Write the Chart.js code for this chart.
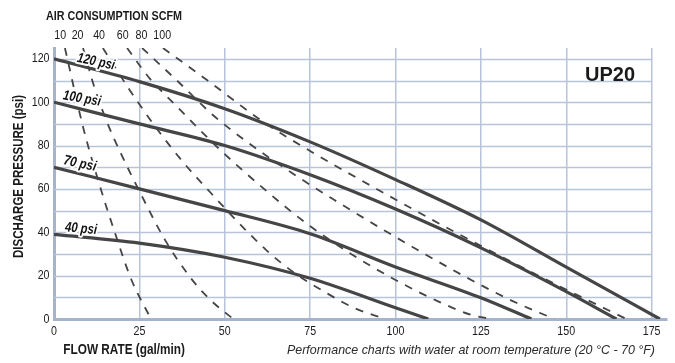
<!DOCTYPE html>
<html>
<head>
<meta charset="utf-8">
<script src="https://cdn.jsdelivr.net/npm/chart.js@4.4.0/dist/chart.umd.min.js"></script>
<style>
  html, body { margin: 0; padding: 0; background: #fff; }
</style>
</head>
<body>
<canvas id="chart" width="675" height="363"></canvas>
<script>
// solid curves: flow (gal/min) vs discharge pressure (psi) at a given air inlet pressure
const psiNames = ['120 psi', '100 psi', '70 psi', '40 psi'];
const flow120 = [0, 25, 50, 75, 100, 125, 150, 177.4];
const pres120 = [120, 109.5, 97, 81.7, 64.3, 45.7, 23.9, 0];
const flow100 = [0, 25, 50, 75, 100, 125, 150, 164.7];
const pres100 = [100, 90, 80, 66.5, 50.7, 32.8, 12.6, 0];
const flow70 = [0, 25, 50, 75, 100, 125, 139.8];
const pres70 = [70, 60, 50, 39.3, 24, 9.8, 0];
const flow40 = [0, 25, 50, 75, 100, 109.6];
const pres40 = [39, 35, 28.5, 18.8, 5.2, 0];

// dashed curves: air consumption (SCFM)
const airNames = ['10', '20', '40', '60', '80', '100'];
const airFlow10 = [3.2, 8.6, 13.5, 17.9, 22.7, 28.4];
const airPres10 = [125, 88, 61, 39.5, 18, 0];
const airFlow20 = [8.5, 12, 16, 20, 25, 32.5, 40, 46, 52.5];
const airPres20 = [125, 106, 89, 75, 59, 36.5, 19, 8.5, 0];
const airFlow40 = [14.3, 22, 30, 38, 46, 54, 62, 70, 80, 88, 97];
const airPres40 = [125, 106, 88, 72, 58, 44.5, 32, 21.7, 11.8, 5, 0];
const airFlow60 = [21.4, 28, 36, 48, 61.5, 74, 87, 100, 112, 122, 128];
const airPres60 = [125, 111, 98, 79, 60, 44, 30, 18, 8.5, 2, 0];
const airFlow80 = [25.8, 36, 46.6, 58, 70, 82, 95, 108, 121, 134, 146.5];
const airPres80 = [125, 110, 94, 80, 67, 55, 42.5, 30.5, 19, 8.5, 0];
const airFlow100 = [31.9, 45, 61.2, 75, 95, 116.8, 137.5, 152, 167.6];
const airPres100 = [125, 110, 91, 77.5, 59.5, 40.6, 23.5, 12, 0];
// where the SCFM numbers sit along the top (flow units)
const airLabelFlow = [1.8, 6.9, 13.2, 20.1, 25.6, 31.7];

// psi labels: [flow, pressure, angle deg, width px]
const psiLabelPos = [[12.3, 118.6, 12, 38], [8.2, 101.6, 10, 38], [7.6, 71.6, 12, 33], [7.9, 41.6, 5, 32]];

const SANS = '"Liberation Sans", Arial, Helvetica, sans-serif';
const NARROW_X = 0.82;
const LINE = '#454545';
const GRID = '#b8c4d8';
const AXIS = '#a5b4cc';
const INK = '#1a1a1a';

function pts(xs, ys) {
    return xs.map((v, i) => ({x: v, y: ys[i]}));
}

// draw text squeezed horizontally (no narrow font installed)
function squeeze(ctx, text, x, y, font, sx, align) {
    ctx.save();
    ctx.font = font;
    ctx.textAlign = align || 'left';
    ctx.textBaseline = 'middle';
    ctx.translate(x, y);
    ctx.scale(sx, 1);
    ctx.fillText(text, 0, 0);
    ctx.restore();
}
function fitWidth(ctx, text, font, w) {
    ctx.save();
    ctx.font = font;
    const m = ctx.measureText(text).width;
    ctx.restore();
    return w / m;
}

const solid = [[flow120, pres120], [flow100, pres100], [flow70, pres70], [flow40, pres40]];
const dashed = [[airFlow10, airPres10], [airFlow20, airPres20], [airFlow40, airPres40],
                [airFlow60, airPres60], [airFlow80, airPres80], [airFlow100, airPres100]];

const datasets = [];
dashed.forEach((d, i) => {
    datasets.push({
        label: airNames[i] + ' SCFM',
        data: pts(d[0], d[1]),
        borderColor: LINE,
        borderWidth: 1.8,
        borderDash: [8, 8],
        pointRadius: 0,
        fill: false,
        cubicInterpolationMode: 'monotone'
    });
});
solid.forEach((d, i) => {
    datasets.push({
        label: psiNames[i],
        data: pts(d[0], d[1]),
        borderColor: LINE,
        borderWidth: 3.2,
        pointRadius: 0,
        fill: false,
        cubicInterpolationMode: 'monotone'
    });
});

// horizontal grid only runs to 175
const gridPlugin = {
    id: 'hgrid',
    beforeDatasetsDraw(chart) {
        const {ctx, scales: {x, y}} = chart;
        ctx.save();
        ctx.strokeStyle = GRID;
        ctx.lineWidth = 1.5;
        for (let v = 10; v <= 120; v += 10) {
            const py = Math.round(y.getPixelForValue(v)) + 0.5;
            ctx.beginPath();
            ctx.moveTo(x.getPixelForValue(0), py);
            ctx.lineTo(x.getPixelForValue(175), py);
            ctx.stroke();
        }
        ctx.restore();
    }
};

const textPlugin = {
    id: 'texts',
    afterDatasetsDraw(chart) {
        const {ctx, chartArea, scales: {x, y}} = chart;
        ctx.save();
        ctx.fillStyle = INK;

        // tick labels, narrow like the original
        x.ticks.forEach(t => {
            squeeze(ctx, String(t.value), x.getPixelForValue(t.value), chartArea.bottom + 12.5, '13px ' + SANS, NARROW_X, 'center');
        });
        y.ticks.forEach(t => {
            squeeze(ctx, String(t.value), chartArea.left - 4.5, y.getPixelForValue(t.value), '13px ' + SANS, NARROW_X, 'right');
        });

        // psi labels on the curves
        psiLabelPos.forEach((p, i) => {
            const f = 'italic bold 14px ' + SANS;
            const sx = fitWidth(ctx, psiNames[i], f, p[3]);
            ctx.save();
            ctx.translate(x.getPixelForValue(p[0]), y.getPixelForValue(p[1]));
            ctx.rotate(p[2] * Math.PI / 180);
            ctx.scale(sx, 1);
            ctx.font = f;
            ctx.textAlign = 'center';
            ctx.textBaseline = 'middle';
            ctx.lineJoin = 'round';
            ctx.strokeStyle = '#fff';
            ctx.lineWidth = 4;
            ctx.strokeText(psiNames[i], 0, 0);
            ctx.fillStyle = '#111';
            ctx.fillText(psiNames[i], 0, 0);
            ctx.restore();
        });

        // model name
        let f = 'bold 21px ' + SANS;
        squeeze(ctx, 'UP20', 585, chartArea.top + 27.5, f, fitWidth(ctx, 'UP20', f, 50), 'left');

        // air consumption scale along the top
        airNames.forEach((n, i) => {
            squeeze(ctx, n, x.getPixelForValue(airLabelFlow[i]), chartArea.top - 12.7, '13px ' + SANS, NARROW_X, 'center');
        });
        f = 'bold 12px ' + SANS;
        squeeze(ctx, 'AIR CONSUMPTION SCFM', 46, 16.5, f, fitWidth(ctx, 'AIR CONSUMPTION SCFM', f, 136), 'left');

        // axis titles
        f = 'bold 14px ' + SANS;
        squeeze(ctx, 'FLOW RATE (gal/min)', 63.3, 350.5, f, fitWidth(ctx, 'FLOW RATE (gal/min)', f, 121.7), 'left');
        f = 'bold 15px ' + SANS;
        ctx.save();
        ctx.translate(18.5, 176.5);
        ctx.rotate(-Math.PI / 2);
        squeeze(ctx, 'DISCHARGE PRESSURE (psi)', 0, 0, f, fitWidth(ctx, 'DISCHARGE PRESSURE (psi)', f, 163), 'center');
        ctx.restore();

        const note = 'Performance charts with water at room temperature (20 \u00B0C - 70 \u00B0F)';
        f = 'italic 13px ' + SANS;
        ctx.fillStyle = '#2a2a2a';
        squeeze(ctx, note, 655, 350.5, f, fitWidth(ctx, note, f, 368), 'right');
        ctx.restore();
    }
};

new Chart('chart', {
    type: 'line',
    data: {datasets: datasets},
    options: {
        responsive: false,
        animation: false,
        layout: {padding: {top: 48, right: 8, left: 0, bottom: 0}},
        plugins: {legend: {display: false}, tooltip: {enabled: false}},
        scales: {
            x: {
                type: 'linear',
                min: 0,
                max: 179.5,
                afterFit(scale) { scale.height = 44; },
                ticks: {stepSize: 25, includeBounds: false, display: false},
                grid: {color: GRID, lineWidth: 1.5, drawTicks: false},
                border: {color: AXIS, width: 3}
            },
            y: {
                min: 0,
                max: 125,
                afterFit(scale) { scale.width = 54; },
                ticks: {stepSize: 20, includeBounds: false, display: false},
                grid: {display: false, drawTicks: false},
                border: {color: AXIS, width: 3}
            }
        }
    },
    plugins: [gridPlugin, textPlugin]
});
</script>
</body>
</html>
